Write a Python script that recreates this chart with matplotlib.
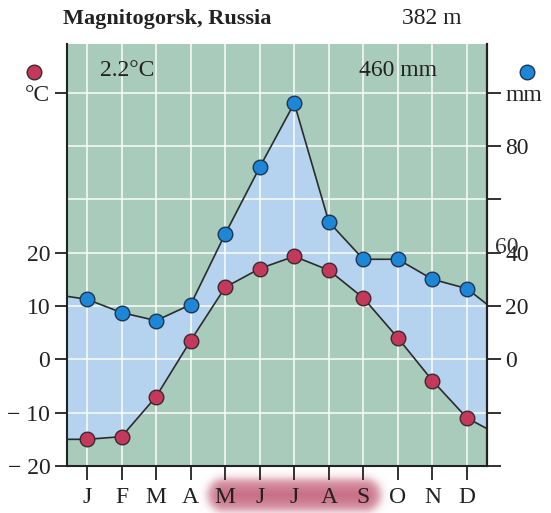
import numpy as np
import matplotlib
matplotlib.use("Agg")
import matplotlib.pyplot as plt
from matplotlib.transforms import blended_transform_factory

# ---- data ----
months = ['J', 'F', 'M', 'A', 'M', 'J', 'J', 'A', 'S', 'O', 'N', 'D']
temp_c = [-15.0, -14.5, -7.0, 3.5, 13.5, 17.0, 19.3, 16.7, 11.5, 4.0, -4.0, -11.0]
precip_mm = [22.5, 17.5, 14.5, 20.5, 47.0, 72.0, 96.0, 51.5, 37.5, 37.5, 30.0, 26.5]
temp_edges = [-15.0, -13.0]      # value at left / right plot edge
precip_edges = [23.6, 20.6]
left_ticks = [50, 20, 10, 0, -10, -20]
left_labels = ['°C', '20', '10', '0', '− 10', '− 20']
right_ticks = [100, 80, 60, 40, 20, 0, -20, -40]
right_labels = ['mm', '80', '', '40', '20', '0', '', '']
title = 'Magnitogorsk, Russia'
elevation = '382 m'
mean_temp = '2.2°C'
total_precip = '460 mm'
season = (4, 8)  # May..Sep highlighted

W, H = 551, 513
plt.rcParams['font.family'] = ['Liberation Serif', 'DejaVu Serif']
fig = plt.figure(figsize=(W / 100, H / 100), dpi=100)

BG = '#a9cbbb'
FILL = '#b5d3ef'
RED = '#c4395b'
BLUE = '#1e86d6'
LINE = '#2b2b2b'
TXT = '#222222'
FS = 17

L, R, T, B = 67, 487, 44, 466
ax = fig.add_axes([L / W, 1 - B / H, (R - L) / W, (B - T) / H], zorder=2)
ax.set_facecolor(BG)
xmin, xmax = -0.58, 11.58
ymin, ymax = -20, 59.1
ax.set_xlim(xmin, xmax)
ax.set_ylim(ymin, ymax)

x = np.arange(12)
xe = np.concatenate([[xmin], x, [xmax]])
te = np.array([temp_edges[0]] + temp_c + [temp_edges[1]])
pe = np.array([precip_edges[0]] + precip_mm + [precip_edges[1]]) / 2.0

ax.fill_between(xe, te, pe, where=pe >= te, color=FILL, zorder=1, lw=0)
# grid
for gy in range(-10, 60, 10):
    ax.axhline(gy, color='white', lw=1.3, alpha=0.8, zorder=2)
for gx in x:
    ax.axvline(gx, color='white', lw=1.3, alpha=0.8, zorder=2)

ax.plot(xe, te, color=LINE, lw=1.2, zorder=3)
ax.plot(xe, pe, color=LINE, lw=1.2, zorder=3)
ax.plot(x, temp_c, 'o', ms=10.5, mfc=RED, mec='#3a2a30', mew=1.0, zorder=4)
ax.plot(x, np.array(precip_mm) / 2, 'o', ms=10.5, mfc=BLUE, mec='#1d3550', mew=1.0, zorder=4)

ax.spines['top'].set_visible(False)
for s in ['left', 'right', 'bottom']:
    ax.spines[s].set_color(TXT)
    ax.spines[s].set_linewidth(1.5)

ax.set_xticks(x)
ax.set_xticklabels(months, fontsize=FS, color=TXT)
ax.tick_params(axis='x', direction='out', length=10, width=1.3, pad=5, color=TXT)
ax.set_yticks(left_ticks)
ax.set_yticklabels(left_labels, fontsize=FS, color=TXT)
ax.tick_params(axis='y', direction='out', length=9, width=1.3, pad=3, color=TXT)

ax2 = ax.twinx()
ax2.set_ylim(ymin * 2, ymax * 2)
ax2.set_yticks(right_ticks)
ax2.set_yticklabels(right_labels, fontsize=FS, color=TXT)
ax2.tick_params(axis='y', direction='out', length=10, width=1.3, pad=3, color=TXT)
for s in ['top', 'left', 'bottom']:
    ax2.spines[s].set_visible(False)
ax2.spines['right'].set_color(TXT)
ax2.spines['right'].set_linewidth(1.5)
# overlapping stray label (as in the reference)
tr = blended_transform_factory(ax2.transAxes, ax2.transData)
ax2.text(1 + 8 / (R - L), 42, '60', transform=tr, fontsize=FS, ha='left', va='center',
         color='#333333', clip_on=False)

# texts
ax.text(100 / W, 1 - 70 / H, mean_temp, transform=fig.transFigure, fontsize=FS,
        ha='left', va='center', color=TXT)
ax.text(437 / W, 1 - 70 / H, total_precip, transform=fig.transFigure, fontsize=FS,
        ha='right', va='center', color=TXT)
fig.text(63 / W, 1 - 19 / H, title, fontsize=16, fontweight='bold', ha='left', va='center',
         color=TXT)
fig.text(462 / W, 1 - 19 / H, elevation, fontsize=FS, ha='right', va='center', color=TXT)

# legend dots
fig.lines.append(plt.Line2D([34 / W], [1 - 72 / H], marker='o', ms=10.5, mfc=RED, mec='#3a2a30',
                            mew=1.0, transform=fig.transFigure))
fig.lines.append(plt.Line2D([527 / W], [1 - 72 / H], marker='o', ms=10.5, mfc=BLUE, mec='#1d3550',
                            mew=1.0, transform=fig.transFigure))

# growing-season highlight band (blurred capsule) below month labels
bax = fig.add_axes([0, 0, 1, 1], zorder=1)
bax.set_xlim(0, W)
bax.set_ylim(H, 0)
bax.axis('off')
step = (R - L) / (xmax - xmin)
x1 = L + (season[0] - xmin) * step - 19
x2 = L + (season[1] - xmin) * step + 19
yc, r = 495, 18
yy, xx = np.mgrid[0:H, 0:W] + 0.5
cx = np.clip(xx, x1 + r, x2 - r)
d = np.hypot(xx - cx, yy - yc)
alpha = 1 / (1 + np.exp((d - r + 1.5) / 2.5))
core = 1 / (1 + np.exp((d - r * 0.5) / 5.0))
img = np.zeros((H, W, 4))
img[..., 0] = 192 / 255
img[..., 1] = 88 / 255
img[..., 2] = 115 / 255
img[..., 3] = alpha * (0.6 + 0.3 * core)
bax.imshow(img, extent=(0, W, H, 0), interpolation='bilinear', zorder=0)

fig.savefig('out.png', dpi=100)
